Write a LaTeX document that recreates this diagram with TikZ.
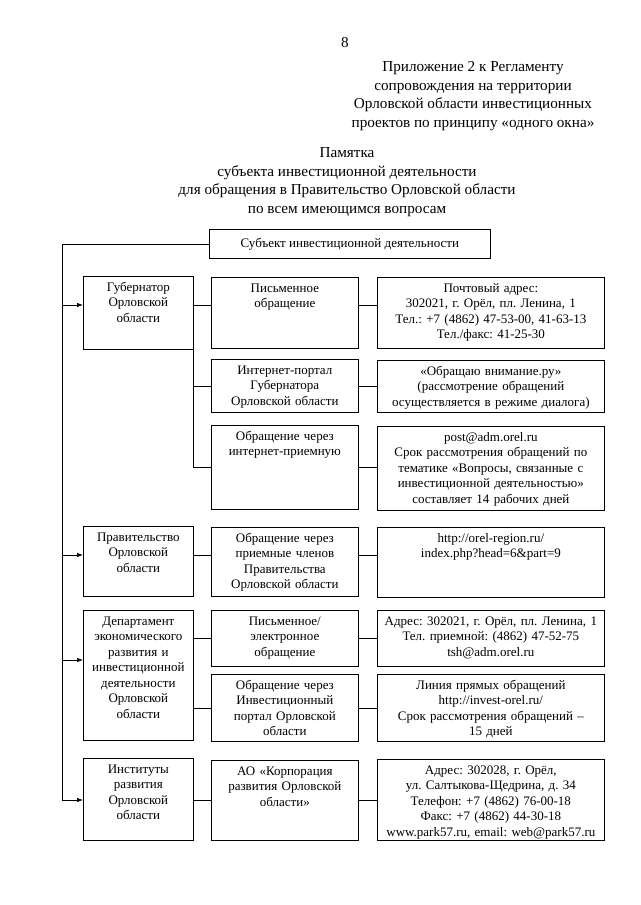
\documentclass[tikz,border=0pt]{standalone}
\usepackage{fontspec}
\setmainfont{Liberation Serif}
\frenchspacing
\usetikzlibrary{arrows.meta}

\begin{document}
\begin{tikzpicture}[
        x=1pt, y=-1pt,
        every node/.style={font=\fontsize{13}{15.5}\selectfont\frenchspacing},
        head/.style={font=\fontsize{15.2}{18.5}\selectfont\frenchspacing, align=center},
        box/.style={draw, line width=0.7pt, align=center, anchor=north west, inner xsep=2pt, inner ysep=4pt, text height=11pt},
        lbox/.style={box, text width=106pt},
        mbox/.style={box, text width=143pt},
        rbox/.style={box, text width=223pt},
        bh/.style={text depth=#1pt},
        link/.style={line width=0.7pt},
        arr/.style={line width=0.7pt, -{Latex[length=6pt, width=4.5pt]}}
    ]
    \useasboundingbox (0,0) rectangle (640,905);

    \node[head] (pagenum) at (345,43) {8};
    \node[head] (annex) at (473,96) {Приложение 2 к Регламенту\\сопровождения на территории\\Орловской области инвестиционных\\проектов по принципу «одного окна»};
    \node[head] (memo) at (347,182) {Памятка\\субъекта инвестиционной деятельности\\для обращения в Правительство Орловской области\\по всем имеющимся вопросам};

    \node[draw, line width=0.7pt, anchor=north west, minimum width=281pt, minimum height=29pt] (subj) at (209,229) {Субъект инвестиционной деятельности};

    \node[lbox, bh=54] (gub) at (83,276) {Губернатор\\Орловской\\области};
    \node[lbox, bh=51] (prav) at (83,526) {Правительство\\Орловской\\области};
    \node[lbox, bh=111] (dep) at (83,610) {Департамент\\экономического\\развития и\\инвестиционной\\деятельности\\Орловской\\области};
    \node[lbox, bh=63] (inst) at (83,758) {Институты\\развития\\Орловской\\области};

    \node[mbox, bh=52] (m1) at (211,277) {Письменное\\обращение};
    \node[mbox, bh=34] (m2) at (211,359) {Интернет-портал\\Губернатора\\Орловской области};
    \node[mbox, bh=65] (m3) at (211,425) {Обращение через\\интернет-приемную};
    \node[mbox, bh=50] (m4) at (211,527) {Обращение через\\приемные членов\\Правительства\\Орловской области};
    \node[mbox, bh=37] (m5) at (211,610) {Письменное/\\электронное\\обращение};
    \node[mbox, bh=48] (m6) at (211,674) {Обращение через\\Инвестиционный\\портал Орловской\\области};
    \node[mbox, bh=61] (m7) at (211,760) {АО «Корпорация\\развития Орловской\\области»};

    \node[rbox, bh=52] (r1) at (377,277) {Почтовый адрес:\\302021, г. Орёл, пл. Ленина, 1\\Тел.: +7 (4862) 47-53-00, 41-63-13\\Тел./факс: 41-25-30};
    \node[rbox, bh=33] (r2) at (377,360) {«Обращаю внимание.ру»\\(рассмотрение обращений\\осуществляется в режиме диалога)};
    \node[rbox, bh=65] (r3) at (377,426) {post@adm.orel.ru\\Срок рассмотрения обращений по\\тематике «Вопросы, связанные с\\инвестиционной деятельностью»\\составляет 14 рабочих дней};
    \node[rbox, bh=51] (r4) at (377,527) {http://orel-region.ru/\\index.php?head=6\&part=9};
    \node[rbox, bh=37] (r5) at (377,610) {Адрес: 302021, г. Орёл, пл. Ленина, 1\\Тел. приемной: (4862) 47-52-75\\tsh@adm.orel.ru};
    \node[rbox, bh=48] (r6) at (377,674) {Линия прямых обращений\\http://invest-orel.ru/\\Срок рассмотрения обращений –\\15 дней};
    \node[rbox, bh=62] (r7) at (377,759) {Адрес: 302028, г. Орёл,\\ул. Салтыкова-Щедрина, д. 34\\Телефон: +7 (4862) 76-00-18\\Факс: +7 (4862) 44-30-18\\www.park57.ru, email: web@park57.ru};

    \coordinate (tgub) at (62,305);
    \coordinate (tprav) at (62,555);
    \coordinate (tdep) at (62,660);
    \coordinate (tinst) at (62,800);

    \draw[link] (subj.west) -| (tinst);
    \draw[arr] (tgub) -- (tgub -| gub.west);
    \draw[arr] (tprav) -- (tprav -| prav.west);
    \draw[arr] (tdep) -- (tdep -| dep.west);
    \draw[arr] (tinst) -- (tinst -| inst.west);

    \draw[link] (tgub -| gub.east) -- (tgub -| m1.west);
    \draw[link] (tgub -| m1.east) -- (tgub -| r1.west);
    \draw[link] (gub.south east) |- (m3.west);
    \draw[link] (gub.south east |- m2.west) -- (m2.west);
    \draw[link] (m2.east) -- (m2.east -| r2.west);
    \draw[link] (m3.east) -- (m3.east -| r3.west);

    \draw[link] (tprav -| prav.east) -- (tprav -| m4.west);
    \draw[link] (tprav -| m4.east) -- (tprav -| r4.west);

    \draw[link] (m5.west -| dep.east) -- (m5.west);
    \draw[link] (m5.east) -- (m5.east -| r5.west);
    \draw[link] (m6.west -| dep.east) -- (m6.west);
    \draw[link] (m6.east) -- (m6.east -| r6.west);

    \draw[link] (m7.west -| inst.east) -- (m7.west);
    \draw[link] (m7.east) -- (m7.east -| r7.west);
\end{tikzpicture}
\end{document}
